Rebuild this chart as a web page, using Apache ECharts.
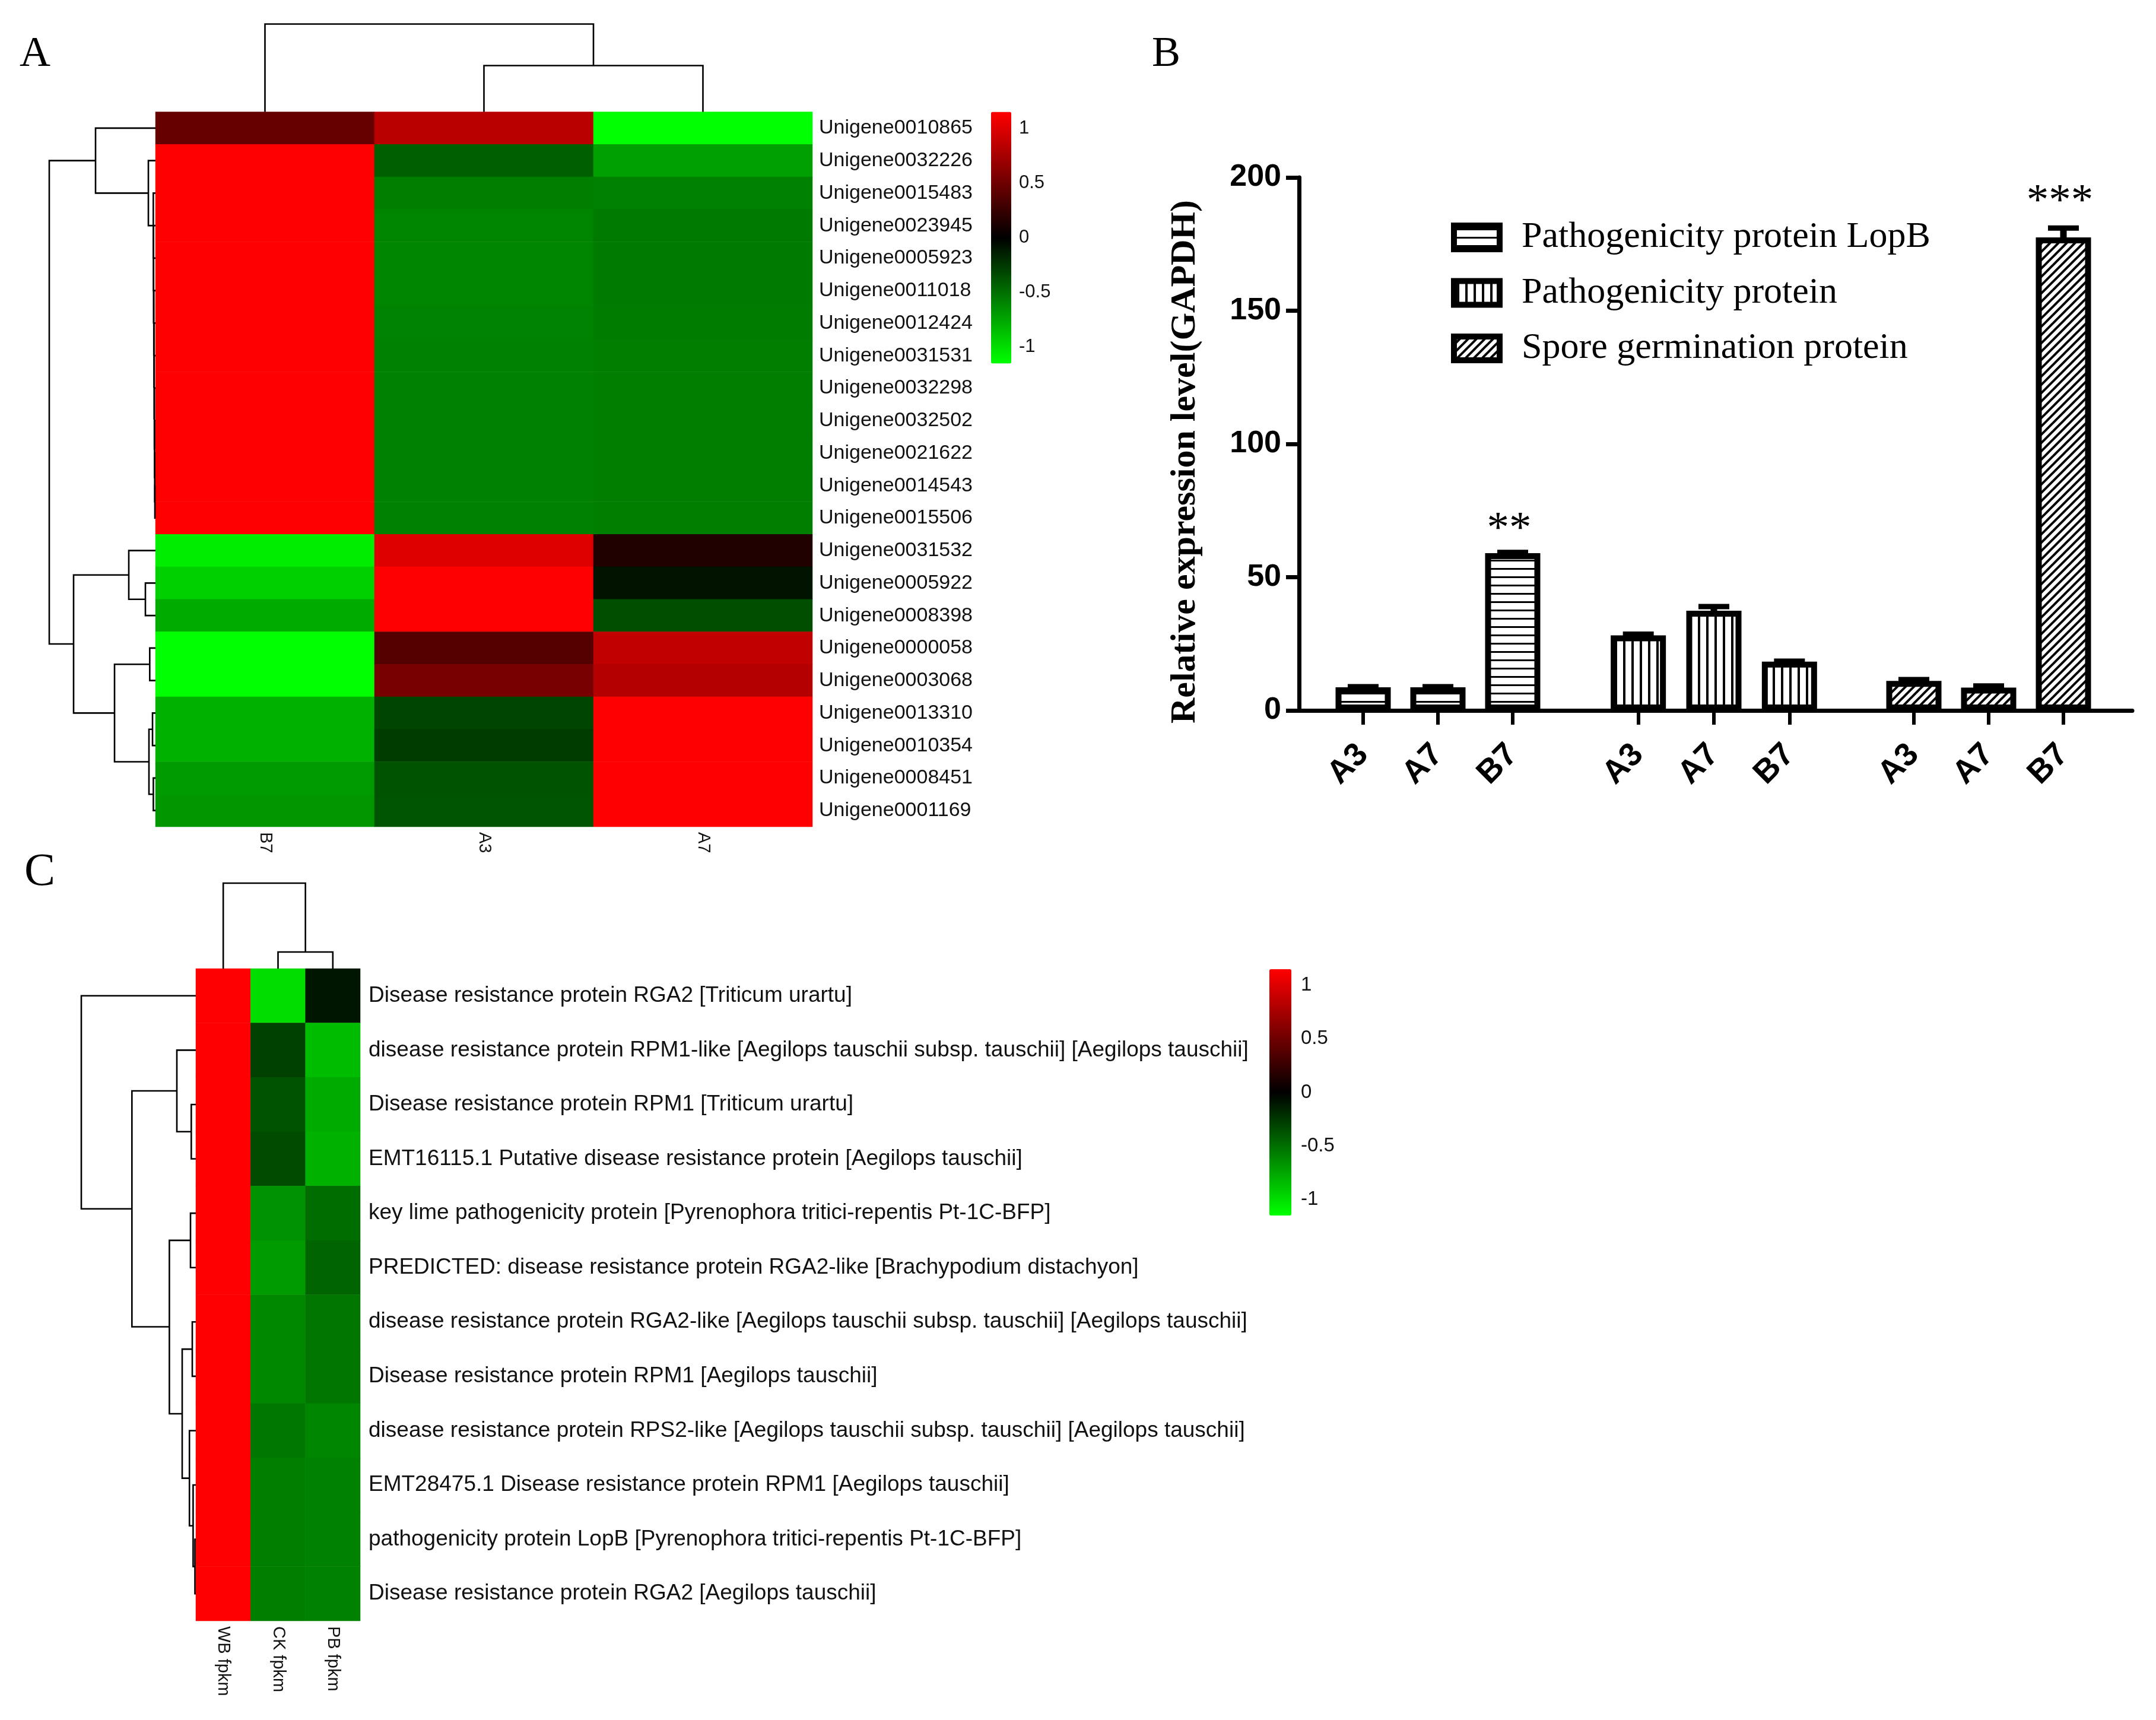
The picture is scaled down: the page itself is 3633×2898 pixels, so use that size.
<!DOCTYPE html>
<html>
<head>
<meta charset="utf-8">
<title>Heatmaps and relative expression</title>
<script src="https://cdn.jsdelivr.net/npm/echarts@6/dist/echarts.min.js"></script>
<style>
  html, body { margin: 0; padding: 0; background: #fff; }
  #main { width: 3633px; height: 2898px; }
</style>
</head>
<body>
<div id="main"></div>
<script>
// panel A heatmap
var aCols = ['B7', 'A3', 'A7'];
var aRows = ['Unigene0010865', 'Unigene0032226', 'Unigene0015483', 'Unigene0023945', 'Unigene0005923', 'Unigene0011018',
  'Unigene0012424', 'Unigene0031531', 'Unigene0032298', 'Unigene0032502', 'Unigene0021622', 'Unigene0014543',
  'Unigene0015506', 'Unigene0031532', 'Unigene0005922', 'Unigene0008398', 'Unigene0000058', 'Unigene0003068',
  'Unigene0013310', 'Unigene0010354', 'Unigene0008451', 'Unigene0001169'];
var aB7 = [0.46, 1.15, 1.15, 1.15, 1.15, 1.15, 1.15, 1.15, 1.15, 1.15, 1.15, 1.15, 1.15, -1.07, -0.94, -0.77, -1.15, -1.15, -0.8, -0.8, -0.7, -0.68];
var aA3 = [0.83, -0.43, -0.57, -0.6, -0.6, -0.6, -0.59, -0.58, -0.58, -0.58, -0.58, -0.58, -0.58, 1.0, 1.15, 1.15, 0.38, 0.54, -0.31, -0.27, -0.38, -0.39];
var aA7 = [-1.15, -0.72, -0.58, -0.55, -0.55, -0.55, -0.56, -0.57, -0.57, -0.57, -0.57, -0.57, -0.57, 0.15, -0.09, -0.35, 0.87, 0.81, 1.15, 1.15, 1.15, 1.15];
// merges are [child a, height a, child b, height b, merge height]
var aRowTree = [[11, 0, 12, 0, 1], [10, 0, 11.5, 1, 1.3], [9, 0, 10.75, 1.3, 1.6], [8, 0, 9.875, 1.6, 1.9], [7, 0, 8.94, 1.9, 2.2],
  [6, 0, 7.97, 2.2, 2.5], [5, 0, 6.98, 2.5, 2.8], [4, 0, 5.99, 2.8, 3.2], [3, 0, 4.99, 3.2, 3.4], [2, 0, 3.99, 3.4, 3.7],
  [1, 0, 3, 3.7, 12], [0, 0, 2, 12, 101], [14, 0, 15, 0, 17], [13, 0, 14.5, 17, 45], [16, 0, 17, 0, 9.7], [18, 0, 19, 0, 5],
  [20, 0, 21, 0, 3.6], [18.5, 5, 20.5, 3.6, 11], [16.5, 9.7, 19.5, 11, 69], [13.75, 45, 18, 69, 138], [1, 101, 15.875, 138, 179]];
var aColTree = [[1, 0, 2, 0, 78], [0, 0, 1.5, 78, 148]];

// panel B bars
var barCats = ['A3', 'A7', 'B7'];
var lopbName = 'Pathogenicity protein LopB';
var protName = 'Pathogenicity protein';
var sporeName = 'Spore germination protein';
var lopbVals = [8.7, 8.7, 59];
var lopbErr = [8.9, 8.9, 59.3];
var protVals = [28.2, 37.4, 18.3];
var protErr = [28.6, 39, 18.5];
var sporeVals = [11.1, 8.6, 177.5];
var sporeErr = [11.6, 9.2, 181];
var lopbSig = ['', '', '**'];
var sporeSig = ['', '', '***'];

// panel C heatmap
var cCols = ['WB fpkm', 'CK fpkm', 'PB fpkm'];
var cRows = ['Disease resistance protein RGA2 [Triticum urartu]',
  'disease resistance protein RPM1-like [Aegilops tauschii subsp. tauschii] [Aegilops tauschii]',
  'Disease resistance protein RPM1 [Triticum urartu]',
  'EMT16115.1 Putative disease resistance protein [Aegilops tauschii]',
  'key lime pathogenicity protein [Pyrenophora tritici-repentis Pt-1C-BFP]',
  'PREDICTED: disease resistance protein RGA2-like [Brachypodium distachyon]',
  'disease resistance protein RGA2-like [Aegilops tauschii subsp. tauschii] [Aegilops tauschii]',
  'Disease resistance protein RPM1 [Aegilops tauschii]',
  'disease resistance protein RPS2-like [Aegilops tauschii subsp. tauschii] [Aegilops tauschii]',
  'EMT28475.1 Disease resistance protein RPM1 [Aegilops tauschii]',
  'pathogenicity protein LopB [Pyrenophora tritici-repentis Pt-1C-BFP]',
  'Disease resistance protein RGA2 [Aegilops tauschii]'];
var cWB = [1.15, 1.15, 1.15, 1.15, 1.15, 1.15, 1.15, 1.15, 1.15, 1.15, 1.15, 1.15];
var cCK = [-1.0, -0.29, -0.38, -0.34, -0.66, -0.7, -0.62, -0.62, -0.54, -0.57, -0.57, -0.57];
var cPB = [-0.1, -0.85, -0.77, -0.8, -0.49, -0.45, -0.53, -0.53, -0.6, -0.58, -0.58, -0.58];
var cRowTree = [[10, 0, 11, 0, 1.5], [9, 0, 10.5, 1.5, 4.6], [8, 0, 9.75, 4.6, 10.8], [6, 0, 7, 0, 6], [6.5, 6, 8.875, 10.8, 23],
  [4, 0, 5, 0, 9], [4.5, 9, 7.69, 23, 44.6], [2, 0, 3, 0, 7.7], [1, 0, 2.5, 7.7, 32], [1.75, 32, 6.09, 44.6, 107.7], [0, 0, 3.92, 107.7, 193]];
var cColTree = [[1, 0, 2, 0, 28], [0, 0, 1.5, 28, 144]];

var scaleMax = 1.15;
var scaleTicks = [-1, -0.5, 0, 0.5, 1];

function cells(cols) {
  var out = [];
  cols.forEach(function (col, i) {
    col.forEach(function (v, j) { out.push([i, j, v]); });
  });
  return out;
}

function tile(draw) {
  var c = document.createElement('canvas');
  c.width = c.height = 14;
  var ctx = c.getContext('2d');
  ctx.fillStyle = '#fff';
  ctx.fillRect(0, 0, 14, 14);
  ctx.strokeStyle = '#000';
  draw(ctx);
  return c;
}
var hLines = tile(function (ctx) { ctx.fillStyle = '#000'; ctx.fillRect(0, 5, 14, 3); });
var vLines = tile(function (ctx) { ctx.fillStyle = '#000'; ctx.fillRect(5, 0, 4, 14); });
var hatch = tile(function (ctx) {
  ctx.lineWidth = 4;
  [[-7, 7, 7, -7], [0, 14, 14, 0], [7, 21, 21, 7]].forEach(function (s) {
    ctx.beginPath();
    ctx.moveTo(s[0], s[1]);
    ctx.lineTo(s[2], s[3]);
    ctx.stroke();
  });
});

function treeSeries(merges, axisIndex, vertical) {
  return {
    type: 'custom',
    xAxisIndex: axisIndex,
    yAxisIndex: axisIndex,
    silent: true,
    clip: false,
    data: merges,
    renderItem: function (params, api) {
      var a = api.value(0), ha = api.value(1), b = api.value(2), hb = api.value(3), hp = api.value(4);
      var pt = function (p, h) { return api.coord(vertical ? [p, h] : [h, p]); };
      return {
        type: 'polyline',
        shape: { points: [pt(a, ha), pt(a, hp), pt(b, hp), pt(b, hb)] },
        style: { stroke: '#000', lineWidth: 2.6, fill: null }
      };
    }
  };
}

function heatSeries(cols, axisIndex) {
  return {
    type: 'heatmap',
    xAxisIndex: axisIndex,
    yAxisIndex: axisIndex,
    silent: true,
    itemStyle: { borderWidth: 0 },
    data: cells(cols)
  };
}

function barSeries(name, vals, pattern, axisIndex, sig, dist) {
  return {
    name: name,
    type: 'bar',
    xAxisIndex: axisIndex,
    yAxisIndex: axisIndex,
    barWidth: 93,
    silent: true,
    itemStyle: { color: { image: pattern, repeat: 'repeat' }, borderColor: '#000', borderWidth: 10 },
    label: {
      show: !!sig,
      position: 'top',
      distance: dist || 0,
      offset: [-6, 0],
      fontFamily: 'Liberation Serif',
      fontSize: 75,
      color: '#000',
      formatter: function (p) { return sig ? sig[p.dataIndex] : ''; }
    },
    data: vals
  };
}

function errSeries(vals, errs, axisIndex) {
  return {
    type: 'custom',
    xAxisIndex: axisIndex,
    yAxisIndex: axisIndex,
    silent: true,
    clip: false,
    z: 3,
    data: vals.map(function (v, i) { return [i, v, errs[i]]; }),
    renderItem: function (params, api) {
      var low = api.coord([api.value(0), api.value(1)]);
      var high = api.coord([api.value(0), api.value(2)]);
      return {
        type: 'group',
        children: [
          { type: 'line', shape: { x1: low[0], y1: low[1], x2: high[0], y2: high[1] }, style: { stroke: '#000', lineWidth: 11 } },
          { type: 'line', shape: { x1: high[0] - 26, y1: high[1], x2: high[0] + 26, y2: high[1] }, style: { stroke: '#000', lineWidth: 9 } }
        ]
      };
    }
  };
}

function heatAxes(cols, rows, labelSize, rowMargin) {
  return {
    x: {
      type: 'category', data: cols, axisLine: { show: false }, axisTick: { show: false },
      axisLabel: { rotate: -90, margin: 9, fontSize: 29, color: '#111', fontFamily: 'Liberation Sans' }
    },
    y: {
      type: 'category', data: rows, inverse: true, position: 'right', axisLine: { show: false }, axisTick: { show: false },
      axisLabel: { margin: rowMargin, fontSize: labelSize, color: '#111', fontFamily: 'Liberation Sans' }
    }
  };
}

function scaleAxes(gridIndex, margin, size) {
  return {
    x: { gridIndex: gridIndex, type: 'value', min: 0, max: 1, show: false },
    y: {
      gridIndex: gridIndex, type: 'value', min: -scaleMax, max: scaleMax, position: 'right',
      axisLine: { show: false }, splitLine: { show: false },
      axisTick: { show: false, customValues: scaleTicks },
      axisLabel: { customValues: scaleTicks, margin: margin, fontSize: size, color: '#111', fontFamily: 'Liberation Sans' }
    }
  };
}

var heatA = heatAxes(aCols, aRows, 34, 11);
var heatC = heatAxes(cCols, cRows, 37, 14);
var barX = function (gridIndex) {
  return {
    gridIndex: gridIndex, type: 'category', data: barCats,
    axisLine: { show: true, lineStyle: { color: '#000', width: 7 } },
    axisTick: { show: true, alignWithLabel: true, inside: false, length: 24, lineStyle: { color: '#000', width: 6 } },
    axisLabel: { rotate: 45, margin: 66, fontSize: 55, fontWeight: 'bold', color: '#000', fontFamily: 'Liberation Sans' }
  };
};
var barY = function (gridIndex) {
  return { gridIndex: gridIndex, type: 'value', min: 0, max: 200, show: false };
};
var hiddenX = function (gridIndex, min, max, inverse) {
  return { gridIndex: gridIndex, type: 'value', min: min, max: max, inverse: !!inverse, show: false };
};
var hiddenY = function (gridIndex, min, max, inverse) {
  return { gridIndex: gridIndex, type: 'value', min: min, max: max, inverse: !!inverse, show: false };
};
var scaleA = scaleAxes(3, 13, 31);
var scaleC = scaleAxes(11, 16, 33);

var grids = [
  { left: 262, top: 188.5, width: 1107, height: 1204.5 }, // A heatmap
  { left: 83, top: 188.5, width: 179, height: 1204.5 },   // A row tree
  { left: 262, top: 40.5, width: 1107, height: 148 },     // A column tree
  { left: 1670, top: 188.5, width: 34, height: 424 },     // A scale
  { left: 2189, top: 299, width: 1404, height: 898 },     // B axes
  { left: 2234, top: 299, width: 378, height: 898 },
  { left: 2697, top: 299, width: 382, height: 898 },
  { left: 3162, top: 299, width: 378, height: 898 },
  { left: 330, top: 1632, width: 277, height: 1099 },     // C heatmap
  { left: 137, top: 1632, width: 193, height: 1099 },     // C row tree
  { left: 330, top: 1488, width: 277, height: 144 },      // C column tree
  { left: 2139, top: 1633, width: 37, height: 415 }       // C scale
];

var option = {
  backgroundColor: '#fff',
  animation: false,
  title: [
    { text: 'A', left: 33, top: 56, padding: 0, textStyle: { fontFamily: 'Liberation Serif', fontWeight: 'normal', fontSize: 72, color: '#000' } },
    { text: 'B', left: 1941, top: 56, padding: 0, textStyle: { fontFamily: 'Liberation Serif', fontWeight: 'normal', fontSize: 72, color: '#000' } },
    { text: 'C', left: 41, top: 1432, padding: 0, textStyle: { fontFamily: 'Liberation Serif', fontWeight: 'normal', fontSize: 78, color: '#000' } }
  ],
  grid: grids,
  legend: {
    left: 2445, top: 369, orient: 'vertical', padding: 0,
    itemWidth: 77, itemHeight: 40, itemGap: 31.5, icon: 'rect',
    itemStyle: { borderColor: '#000', borderWidth: 10 },
    selectedMode: false,
    textStyle: { fontFamily: 'Liberation Serif', fontSize: 62, color: '#000', padding: [0, 0, 0, 32] },
    data: [lopbName, protName, sporeName]
  },
  visualMap: [
    { type: 'continuous', seriesIndex: 0, min: -scaleMax, max: scaleMax, left: 1670, top: 188.5, itemWidth: 34, itemHeight: 424, padding: 0, calculable: false, hoverLink: false, inRange: { color: ['#00ff00', '#000000', '#ff0000'] } },
    { type: 'continuous', seriesIndex: 1, min: -scaleMax, max: scaleMax, left: 2139, top: 1633, itemWidth: 37, itemHeight: 415, padding: 0, calculable: false, hoverLink: false, inRange: { color: ['#00ff00', '#000000', '#ff0000'] } }
  ],
  xAxis: [
    heatA.x,
    hiddenX(1, 0, 179, true),
    hiddenX(2, -0.5, 2.5),
    scaleA.x,
    { gridIndex: 4, type: 'category', data: [''], axisLine: { lineStyle: { color: '#000', width: 7 } }, axisTick: { show: false }, axisLabel: { show: false } },
    barX(5), barX(6), barX(7),
    Object.assign(heatC.x, { gridIndex: 8 }),
    hiddenX(9, 0, 193, true),
    hiddenX(10, -0.5, 2.5),
    scaleC.x
  ],
  yAxis: [
    heatA.y,
    hiddenY(1, -0.5, 21.5, true),
    hiddenY(2, 0, 148),
    scaleA.y,
    {
      gridIndex: 4, type: 'value', min: 0, max: 200, interval: 50,
      splitLine: { show: false },
      axisLine: { show: true, lineStyle: { color: '#000', width: 7 } },
      axisTick: { show: true, length: 22, lineStyle: { color: '#000', width: 7 } },
      axisLabel: { margin: 30, fontSize: 52, fontWeight: 'bold', color: '#000', fontFamily: 'Liberation Sans' },
      name: 'Relative expression level(GAPDH)',
      nameLocation: 'middle',
      nameGap: 162,
      nameTextStyle: { fontFamily: 'Liberation Serif', fontWeight: 'bold', fontSize: 60, color: '#000', padding: [0, 60, 0, 0] }
    },
    barY(5), barY(6), barY(7),
    Object.assign(heatC.y, { gridIndex: 8 }),
    hiddenY(9, -0.5, 11.5, true),
    hiddenY(10, 0, 144),
    scaleC.y
  ],
  series: [
    heatSeries([aB7, aA3, aA7], 0),
    heatSeries([cWB, cCK, cPB], 8),
    treeSeries(aRowTree, 1, false),
    treeSeries(aColTree, 2, true),
    treeSeries(cRowTree, 9, false),
    treeSeries(cColTree, 10, true),
    barSeries(lopbName, lopbVals, hLines, 5, lopbSig, 1),
    barSeries(protName, protVals, vLines, 6),
    barSeries(sporeName, sporeVals, hatch, 7, sporeSig, 21),
    errSeries(lopbVals, lopbErr, 5),
    errSeries(protVals, protErr, 6),
    errSeries(sporeVals, sporeErr, 7)
  ]
};

var chart = echarts.init(document.getElementById('main'), null, { renderer: 'canvas' });
chart.setOption(option);
</script>
</body>
</html>
